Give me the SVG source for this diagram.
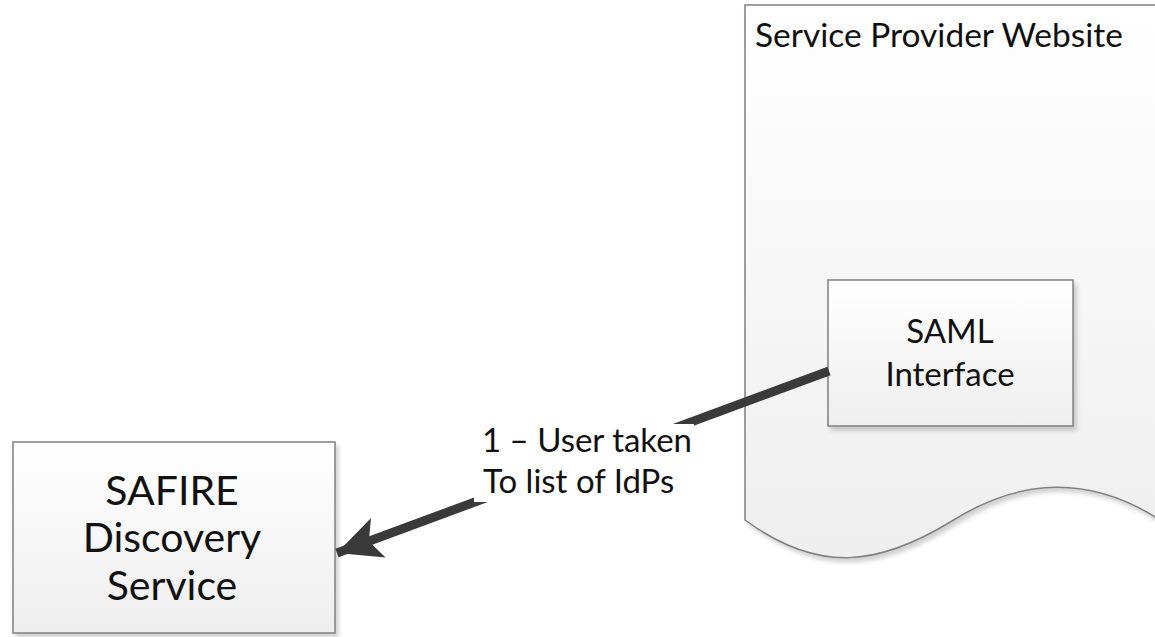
<svg xmlns="http://www.w3.org/2000/svg" width="1155" height="637" viewBox="0 0 1155 637">
<defs>
<linearGradient id="g" x1="0" y1="0" x2="0" y2="1"><stop offset="0" stop-color="#ffffff"/><stop offset="1" stop-color="#eeeeee"/></linearGradient>
<filter id="sh" x="-5%" y="-5%" width="115%" height="115%"><feDropShadow dx="3" dy="4" stdDeviation="2" flood-color="#000" flood-opacity="0.18"/></filter>
<marker id="ah" markerUnits="userSpaceOnUse" markerWidth="50" markerHeight="50" viewBox="0 0 50 50" refX="44" refY="25" orient="auto"><path d="M0,4 L44,25 L0,46 L10,25 Z" fill="#3a3a3a"/></marker>
<style>
.box{fill:url(#g);stroke:#7f7f7f;stroke-width:1.5;filter:url(#sh)}
.t{font-family:Lato,"Open Sans","Liberation Sans",sans-serif;fill:#111}
.c{text-anchor:middle}
.conn{stroke:#3a3a3a;stroke-width:9;fill:none}
</style>
</defs>
<rect width="1155" height="637" fill="#fff"/>
<g id="sp-website">
<path class="box" d="M745,5 H1160 V520 C1090,475 1020,478 952,521 C880,565 820,575 745,520 Z"/>
<text class="t" x="755" y="47" font-size="33.5">Service Provider Website</text>
</g>
<g id="saml-interface">
<rect class="box" x="828" y="280" width="245" height="146"/>
<text class="t c" x="950" y="343" font-size="33">SAML</text>
<text class="t c" x="950" y="386" font-size="33">Interface</text>
</g>
<g id="safire">
<rect class="box" x="13" y="442" width="322" height="191"/>
<text class="t c" x="172" y="505" font-size="41">SAFIRE</text>
<text class="t c" x="172" y="552" font-size="41">Discovery</text>
<text class="t c" x="172" y="600" font-size="41">Service</text>
</g>
<g id="connectors">
<line class="conn" x1="829" y1="371" x2="337" y2="553" marker-end="url(#ah)"/>
<rect x="474" y="424" width="220" height="78" fill="#fff"/>
<text class="t" x="482" y="452" font-size="33">1 – User taken</text>
<text class="t" x="483" y="493" font-size="33">To list of IdPs</text>
</g>
</svg>
